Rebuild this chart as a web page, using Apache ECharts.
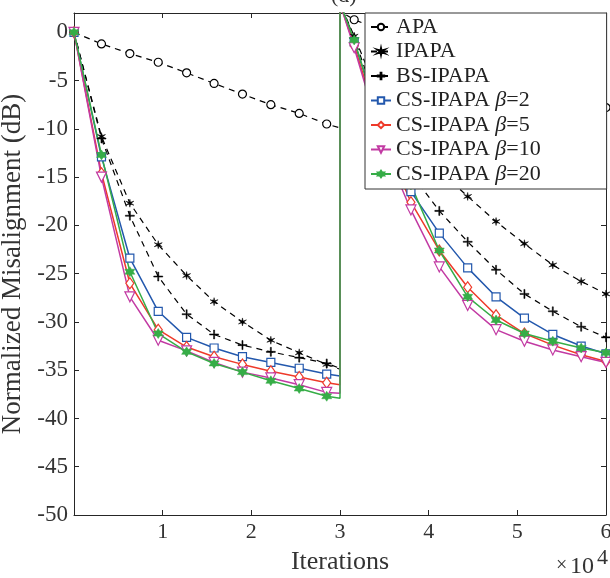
<!DOCTYPE html>
<html>
<head>
<meta charset="utf-8">
<script src="https://cdn.jsdelivr.net/npm/echarts@6/dist/echarts.min.js"></script>
<style>
  html, body { margin: 0; padding: 0; background: #fff; }
  #misalign-chart { width: 610px; height: 578px; }
</style>
</head>
<body>
<div id="misalign-chart"></div>
<script>
// iterations (x 10^4), marker positions of both halves
var xLeft  = [0, 0.31, 0.63, 0.95, 1.27, 1.58, 1.90, 2.22, 2.54, 2.85, 3.0];
var xRight = [3.0, 3.16, 3.48, 3.80, 4.12, 4.44, 4.76, 5.08, 5.40, 5.72, 6.0];

var apaLeft    = [0, -1.2, -2.2, -3.1, -4.2, -5.3, -6.4, -7.5, -8.4, -9.5, -9.9];
var apaRight   = [2.2, 1.3, 0.2, -0.8, -1.8, -2.9, -3.9, -4.9, -5.9, -6.9, -7.8];
var ipapaLeft  = [0, -10.8, -17.7, -22.0, -25.2, -27.9, -30.0, -31.9, -33.2, -34.4, -34.9];
var ipapaRight = [3, -0.4, -7.5, -11.3, -14.3, -17.0, -19.6, -21.9, -24.1, -25.8, -27.1];
var bsLeft     = [0, -11.0, -19.0, -25.3, -29.2, -31.3, -32.4, -33.1, -33.7, -34.3, -34.8];
var bsRight    = [3, -0.6, -9.0, -14.6, -18.5, -21.7, -24.6, -27.1, -28.9, -30.5, -31.6];
var cs2Left    = [0, -12.9, -23.4, -28.9, -31.6, -32.7, -33.6, -34.2, -34.8, -35.4, -35.6];
var cs2Right   = [3, -1.0, -10.0, -16.5, -20.8, -24.4, -27.4, -29.6, -31.3, -32.5, -33.3];
var cs5Left    = [0, -14.6, -26.0, -30.8, -32.6, -33.6, -34.4, -35.1, -35.7, -36.3, -36.5];
var cs5Right   = [3, -1.4, -10.8, -17.6, -22.6, -26.4, -29.3, -31.2, -32.4, -33.4, -34.1];
var cs10Left   = [0, -15.0, -27.4, -31.9, -33.0, -34.2, -35.2, -35.8, -36.5, -37.3, -37.4];
var cs10Right  = [3, -1.6, -11.5, -18.4, -24.3, -28.3, -30.8, -32.0, -32.9, -33.6, -34.2];
var cs20Left   = [0, -12.7, -24.8, -31.2, -33.1, -34.3, -35.2, -36.1, -36.9, -37.7, -37.9];
var cs20Right  = [3, -0.8, -10.2, -15.8, -22.6, -27.4, -29.8, -31.2, -32.0, -32.7, -33.2];

var xTicks = [1, 2, 3, 4, 5, 6];
var yTicks = [-50, -45, -40, -35, -30, -25, -20, -15, -10, -5, 0];

var FONT = '"Liberation Serif", "DejaVu Serif", serif';
var AXIS_COLOR = '#262626';

var asterisk = 'path://M50,0 L57,38 L93,25 L64,50 L93,75 L57,62 L50,100 L43,62 L7,75 L36,50 L7,25 L43,38 Z';
var plus = 'path://M44,0 H56 V44 H100 V56 H56 V100 H44 V56 H0 V44 H44 Z';
var hexagram = 'path://M50,0 L64,25 L93,25 L79,50 L93,75 L64,75 L50,100 L36,75 L7,75 L21,50 L7,25 L36,25 Z';

function buildData(left, right) {
    var data = [];
    left.forEach(function (v, i) {
        var item = { value: [xLeft[i], v] };
        if (i === left.length - 1) item.symbol = 'none';
        data.push(item);
    });
    right.forEach(function (v, i) {
        var item = { value: [xRight[i], v] };
        if (i === 0) item.symbol = 'none';
        data.push(item);
    });
    return data;
}

function makeSeries(name, left, right, color, symbol, hollow, dashed, size, rotate) {
    return {
        name: name,
        type: 'line',
        data: buildData(left, right),
        symbol: symbol,
        symbolSize: size,
        symbolRotate: rotate || 0,
        showAllSymbol: true,
        clip: true,
        lineStyle: { color: color, width: dashed ? 1.2 : 1.5, type: dashed ? [6, 5] : 'solid' },
        itemStyle: { color: hollow ? '#fff' : color, borderColor: color, borderWidth: hollow ? 1.2 : 0.5 },
        emphasis: { disabled: true },
        animation: false
    };
}

function boxAxis(extra) {
    var ax = {
        type: 'value',
        axisLine: { onZero: false, lineStyle: { color: AXIS_COLOR, width: 1 } },
        axisTick: { inside: true, length: 5, lineStyle: { color: AXIS_COLOR } },
        splitLine: { show: false }
    };
    for (var k in extra) ax[k] = extra[k];
    return ax;
}

var myChart = echarts.init(document.getElementById('misalign-chart'));
var option = {
    backgroundColor: '#fff',
    animation: false,
    grid: { left: 74, right: 4, top: 13, bottom: 63, outerBoundsMode: 'none', containLabel: false },
    xAxis: [
        boxAxis({
            min: 0, max: 6,
            name: 'Iterations', nameLocation: 'middle', nameGap: 34,
            nameTextStyle: { fontFamily: FONT, fontSize: 26, color: '#333' },
            axisTick: { inside: true, length: 5, customValues: xTicks, lineStyle: { color: AXIS_COLOR } },
            axisLabel: { customValues: xTicks, margin: 6, fontFamily: FONT, fontSize: 22, color: '#333' }
        }),
        boxAxis({
            min: 0, max: 6, position: 'top',
            axisTick: { inside: true, length: 5, customValues: xTicks, lineStyle: { color: AXIS_COLOR } },
            axisLabel: { show: false }
        })
    ],
    yAxis: [
        boxAxis({
            min: -50, max: 2,
            name: 'Normalized Misalignment (dB)', nameLocation: 'middle', nameGap: 41,
            nameTextStyle: { fontFamily: FONT, fontSize: 27, color: '#333' },
            axisTick: { inside: true, length: 5, customValues: yTicks, lineStyle: { color: AXIS_COLOR } },
            axisLabel: { customValues: yTicks, margin: 6, fontFamily: FONT, fontSize: 23, color: '#333' }
        }),
        boxAxis({
            min: -50, max: 2, position: 'right',
            axisTick: { inside: true, length: 5, customValues: yTicks, lineStyle: { color: AXIS_COLOR } },
            axisLabel: { show: false }
        })
    ],
    legend: {
        orient: 'vertical',
        left: 365, top: 13,
        padding: [3, 66, 4, 5],
        backgroundColor: '#fff',
        borderColor: '#333',
        borderWidth: 1,
        itemGap: 2.5,
        itemWidth: 20, itemHeight: 8,
        textStyle: {
            fontFamily: FONT, fontSize: 22, color: '#222', lineHeight: 22,
            rich: {
                t: { fontFamily: FONT, fontSize: 22, color: '#222', lineHeight: 22 },
                g: { fontFamily: FONT, fontSize: 22, color: '#222', fontStyle: 'italic', lineHeight: 22 }
            }
        },
        formatter: function (name) {
            var k = name.indexOf('β');
            if (k < 0) return '{t|' + name + '}';
            return '{t|' + name.slice(0, k) + '}{g|β}{t|' + name.slice(k + 1) + '}';
        }
    },
    graphic: [
        { type: 'text', left: 331, top: -15, style: { text: '(d)', font: '22px ' + FONT, fill: '#333' } },
        { type: 'text', left: 556, top: 556, style: { text: '×', font: '20px ' + FONT, fill: '#333' } },
        { type: 'text', left: 570, top: 555, style: { text: '10', font: '24px ' + FONT, fill: '#333' } },
        { type: 'text', left: 597, top: 547, style: { text: '4', font: '22px ' + FONT, fill: '#333' } }
    ],
    series: [
        makeSeries('APA', apaLeft, apaRight, '#000', 'circle', true, true, 8),
        makeSeries('IPAPA', ipapaLeft, ipapaRight, '#000', asterisk, false, true, 8),
        makeSeries('BS-IPAPA', bsLeft, bsRight, '#000', plus, false, true, 9),
        makeSeries('CS-IPAPA β=2', cs2Left, cs2Right, '#2358ad', 'rect', true, false, 8),
        makeSeries('CS-IPAPA β=5', cs5Left, cs5Right, '#ee3a2a', 'diamond', true, false, [8, 11]),
        makeSeries('CS-IPAPA β=10', cs10Left, cs10Right, '#c23aa3', 'triangle', true, false, 10, 180),
        makeSeries('CS-IPAPA β=20', cs20Left, cs20Right, '#36ad47', hexagram, false, false, 10)
    ]
};
myChart.setOption(option);
</script>
</body>
</html>
